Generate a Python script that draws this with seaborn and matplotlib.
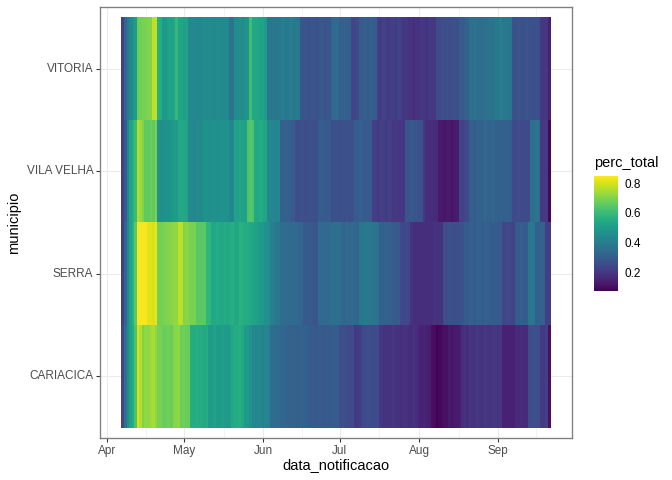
import numpy as np
import pandas as pd
import matplotlib
matplotlib.use("Agg")
import matplotlib.pyplot as plt
import seaborn as sns

W, H = 672, 480

municipios = ["VITORIA", "VILA VELHA", "SERRA", "CARIACICA"]

vitoria = [
    .22, .33, .39, .43, .46, .5, .67, .68, .69, .69, .7, .7,
    .77, .78, .56, .55, .49, .49, .52, .52, .53, .59, .53, .53,
    .51, .52, .44, .44, .44, .43, .43, .44, .45, .44, .45, .44,
    .44, .45, .45, .44, .45, .44, .37, .37, .45, .45, .46, .45,
    .47, .48, .61, .54, .54, .53, .52, .52, .5, .38, .38, .39,
    .38, .39, .39, .4, .39, .39, .4, .39, .39, .39, .28, .28,
    .28, .27, .28, .28, .27, .28, .29, .28, .28, .28, .33, .34,
    .34, .31, .31, .32, .31, .31, .24, .24, .25, .3, .3, .31,
    .3, .31, .3, .3, .22, .21, .23, .22, .21, .22, .22, .21,
    .23, .22, .2, .2, .19, .19, .18, .19, .19, .2, .2, .19,
    .2, .21, .2, .25, .25, .26, .26, .27, .26, .26, .27, .26,
    .3, .3, .31, .32, .36, .36, .37, .36, .35, .36, .36, .36,
    .37, .36, .39, .39, .4, .39, .39, .38, .38, .27, .27, .28,
    .27, .27, .28, .27, .27, .26, .27, .26, .2, .2, .2, .15,
]
vila_velha = [
    .22, .3, .43, .52, .56, .6, .76, .73, .7, .66, .66, .67,
    .66, .69, .47, .46, .46, .47, .47, .48, .5, .5, .54, .54,
    .54, .53, .44, .44, .43, .45, .44, .45, .47, .47, .46, .47,
    .47, .46, .47, .47, .47, .47, .43, .43, .52, .52, .53, .52,
    .52, .63, .64, .63, .54, .54, .55, .54, .53, .43, .43, .43,
    .42, .43, .31, .31, .32, .31, .3, .3, .26, .26, .27, .26,
    .26, .26, .27, .26, .26, .3, .3, .3, .29, .3, .26, .27,
    .27, .26, .27, .26, .27, .26, .27, .3, .3, .31, .3, .3,
    .3, .3, .22, .22, .21, .22, .22, .21, .22, .22, .2, .21,
    .2, .2, .2, .28, .28, .29, .28, .28, .27, .27, .2, .18,
    .18, .18, .17, .17, .13, .13, .12, .13, .13, .12, .13, .14,
    .23, .23, .24, .25, .3, .31, .3, .31, .31, .32, .33, .32,
    .32, .33, .32, .31, .32, .31, .31, .31, .3, .25, .25, .26,
    .25, .25, .25, .25, .36, .36, .37, .36, .2, .2, .21, .09,
]
serra = [
    .22, .33, .43, .52, .57, .65, .84, .84, .84, .84, .81, .81,
    .8, .82, .68, .68, .69, .7, .7, .71, .72, .72, .77, .77,
    .7, .71, .7, .69, .69, .65, .65, .65, .65, .58, .58, .54,
    .54, .55, .54, .54, .55, .54, .55, .56, .54, .54, .57, .56,
    .55, .55, .54, .53, .52, .51, .5, .49, .46, .46, .41, .4,
    .39, .39, .35, .35, .35, .34, .34, .34, .34, .33, .33, .29,
    .29, .29, .29, .28, .28, .34, .34, .34, .34, .34, .36, .36,
    .36, .36, .33, .33, .34, .33, .34, .33, .33, .38, .38, .39,
    .39, .38, .38, .37, .36, .31, .31, .32, .31, .31, .3, .29,
    .29, .25, .24, .25, .24, .19, .18, .18, .18, .18, .18, .18,
    .18, .18, .19, .19, .19, .19, .26, .26, .27, .26, .26, .26,
    .27, .27, .3, .3, .31, .31, .3, .31, .31, .3, .31, .31,
    .3, .3, .3, .29, .29, .24, .24, .25, .24, .23, .3, .3,
    .31, .3, .3, .38, .39, .38, .31, .31, .32, .31, .22, .22,
]
cariacica = [
    .24, .36, .45, .52, .55, .63, .8, .76, .7, .72, .72, .73,
    .75, .72, .69, .69, .67, .67, .68, .67, .71, .71, .72, .67,
    .68, .67, .67, .55, .55, .56, .55, .55, .54, .55, .5, .5,
    .52, .5, .49, .51, .5, .49, .5, .54, .55, .55, .56, .54,
    .49, .49, .47, .43, .43, .44, .43, .42, .43, .42, .35, .35,
    .34, .34, .33, .33, .33, .32, .32, .32, .31, .31, .32, .31,
    .31, .3, .3, .29, .29, .3, .29, .29, .3, .29, .3, .3,
    .3, .26, .26, .26, .25, .25, .25, .21, .21, .22, .25, .25,
    .26, .25, .25, .25, .25, .2, .19, .19, .19, .19, .2, .19,
    .19, .18, .19, .19, .18, .18, .19, .18, .16, .15, .16, .15,
    .14, .11, .1, .08, .09, .1, .11, .11, .13, .12, .13, .13,
    .14, .18, .19, .18, .2, .19, .19, .2, .19, .19, .2, .19,
    .19, .2, .2, .19, .2, .15, .15, .15, .15, .15, .17, .17,
    .18, .17, .17, .26, .26, .27, .26, .26, .21, .21, .22, .11,
]

month_dates = ["2020-04-01", "2020-05-01", "2020-06-01", "2020-07-01", "2020-08-01", "2020-09-01"]
month_labels = ["Apr", "May", "Jun", "Jul", "Aug", "Sep"]
legend_ticks = [0.2, 0.4, 0.6, 0.8]

sns.set_theme(style="white")
plt.rcParams["font.family"] = ["Liberation Sans", "DejaVu Sans"]

dates = pd.date_range("2020-04-07", periods=len(vitoria))
df = pd.DataFrame({"VITORIA": vitoria, "VILA VELHA": vila_velha,
                   "SERRA": serra, "CARIACICA": cariacica}, index=dates)
df = df.reset_index(names="data_notificacao").melt(
    id_vars="data_notificacao", var_name="municipio", value_name="perc_total")
table = df.pivot(index="municipio", columns="data_notificacao", values="perc_total")
table = table.reindex(municipios)

fig = plt.figure(figsize=(W / 96, H / 96), dpi=96)
ax = fig.add_axes([100 / W, 1 - 438 / H, 472 / W, 431 / H])
cax = fig.add_axes([594 / W, 1 - 291 / H, 24 / W, 115 / H])

sns.heatmap(table, ax=ax, cbar_ax=cax, cmap="viridis", vmin=0.078, vmax=0.847,
            linewidths=0, rasterized=False)

# same margins as the ggplot panel
n = table.shape[1]
ax.set_xlim(-0.05 * n, 1.05 * n)
ax.set_ylim(4.1, -0.1)

month_pos = np.array([(pd.Timestamp(d) - dates[0]).days + 0.5 for d in month_dates])
minor_pos = (month_pos[:-1] + month_pos[1:]) / 2
minor_pos = np.append(minor_pos, month_pos[-1] + 15)
ax.set_xticks(month_pos)
ax.set_xticklabels(month_labels, rotation=0)
ax.set_xticks(minor_pos, minor=True)
ax.set_yticks(np.arange(4) + 0.5)
ax.set_yticklabels(municipios, rotation=0, va="center")

ax.set_axisbelow(True)
ax.grid(True, which="major", color="#ebebeb", lw=0.8)
ax.grid(True, which="minor", axis="x", color="#ebebeb", lw=0.4)
ax.tick_params(axis="both", which="major", length=2.75, width=0.8, color="#333333",
               labelcolor="#4d4d4d", labelsize=8.8, pad=2.2, bottom=True, left=True)
ax.tick_params(axis="x", which="minor", length=0)
ax.set_xlabel("data_notificacao", fontsize=11, color="black", labelpad=1)
ax.set_ylabel("municipio", fontsize=11, color="black", labelpad=4)
for s in ax.spines.values():
    s.set_visible(True)
    s.set_color("#7f7f7f")
    s.set_linewidth(1.0)

cax.set_yticks(legend_ticks)
cax.set_yticklabels(["0.2", "0.4", "0.6", "0.8"])
cax.tick_params(axis="y", which="both", direction="in", length=3.6, width=0.5, color="white",
                left=True, right=True, labelleft=False, labelright=True, labelsize=8.8,
                labelcolor="black", pad=5)
for s in cax.spines.values():
    s.set_visible(False)
fig.text(594 / W, 1 - 163 / H, "perc_total", fontsize=11, color="black", ha="left", va="center")

fig.savefig("out.png", dpi=96, facecolor="white")
plt.close(fig)
